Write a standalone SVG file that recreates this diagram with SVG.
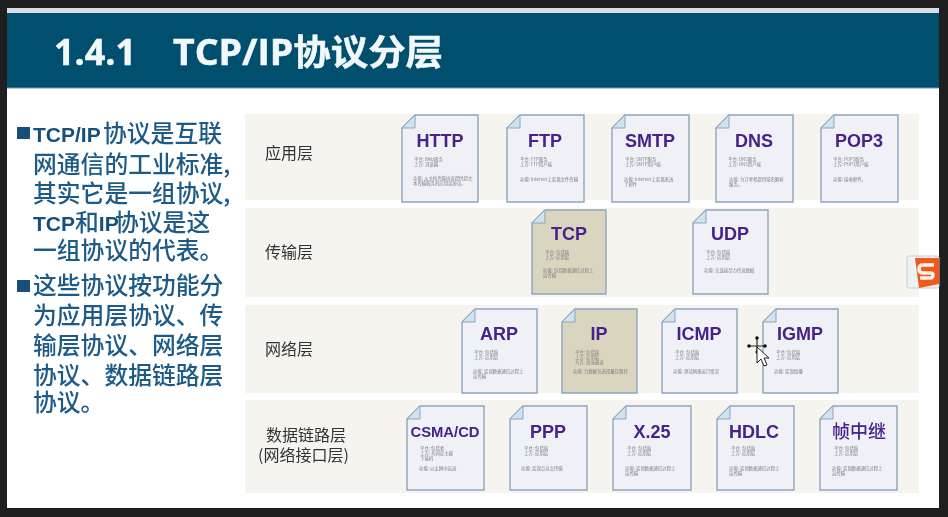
<svg xmlns="http://www.w3.org/2000/svg" width="948" height="517" viewBox="0 0 948 517">
<style>
.row{fill:#f5f4ef}
.doc{fill:#eff1f6;stroke:#8ea5bf;stroke-width:1.4}
.tan{fill:#d9d5bf}
.fold{fill:#cfe2ef;stroke:#8ea5bf;stroke-width:1}
.p{font:bold 18px "Liberation Sans",Arial,"Noto Sans CJK SC",sans-serif;fill:#47208a;text-anchor:middle}
.s{font:4.4px "Noto Sans CJK SC",sans-serif;fill:#7d7d80}
.l{font:16px "Noto Sans CJK SC",sans-serif;fill:#333}
.b{font:500 23.800px "Noto Sans CJK SC",sans-serif;fill:#1d5a88}
.la{font:bold 21px "Liberation Sans",sans-serif;fill:#174f7c}
.t{font:bold 35px "Open Sans","Noto Sans CJK SC",sans-serif;fill:#f2f8fa;stroke:#f2f8fa;stroke-width:.5}
</style>
<defs>
<filter id="soft" x="-5%" y="-5%" width="110%" height="110%"><feGaussianBlur stdDeviation="0.45"/></filter>
</defs>
<rect width="948" height="517" fill="#1f1f1f"/>
<rect x="7" y="8" width="932" height="500" fill="#fff"/>
<g filter="url(#soft)">
<rect x="7" y="8" width="932" height="5" fill="#dcdbe6"/>
<rect x="7" y="13" width="932" height="75" fill="#00506e"/>
<rect x="7" y="87.500" width="932" height="1" fill="#6f8fb0"/>
<text class="t" x="54" y="65" textLength="82" lengthAdjust="spacingAndGlyphs">1.4.1</text>
<text class="t" x="173" y="65" textLength="270" lengthAdjust="spacingAndGlyphs">TCP/IP协议分层</text>

<g id="bullets">
<rect x="17" y="127" width="13" height="12" fill="#174f7c"/>
<rect x="17" y="280" width="13" height="12" fill="#174f7c"/>
<text class="b" x="33" y="142"><tspan class="la">TCP/IP</tspan><tspan x="103">协议是互联</tspan></text>
<text class="b" x="33" y="173">网通信的工业标准,</text>
<text class="b" x="33" y="202">其实它是一组协议,</text>
<text class="b" x="33" y="231"><tspan class="la">TCP</tspan>和<tspan class="la">IP</tspan><tspan x="115">协议是这</tspan></text>
<text class="b" x="33" y="259">一组协议的代表。</text>
<text class="b" x="33" y="294">这些协议按功能分</text>
<text class="b" x="33" y="324">为应用层协议、传</text>
<text class="b" x="33" y="354">输层协议、网络层</text>
<text class="b" x="33" y="384">协议、数据链路层</text>
<text class="b" x="33" y="411">协议。</text>
</g>

<g id="layer-app">
<rect class="row" x="245" y="114" width="674" height="86"/>
<text class="l" x="265" y="159">应用层</text>
</g>
<g id="layer-transport">
<rect class="row" x="245" y="208" width="674" height="89"/>
<text class="l" x="265" y="258">传输层</text>
</g>
<g id="layer-network">
<rect class="row" x="245" y="305" width="674" height="88"/>
<text class="l" x="265" y="355">网络层</text>
</g>
<g id="layer-link">
<rect class="row" x="245" y="400" width="674" height="93"/>
<text class="l" x="266" y="441">数据链路层</text>
<text class="l" x="258" y="461">(网络接口层)</text>
</g>

<g id="http"><path class="doc" d="M415 115H478V202H402V128Z"/><path class="fold" d="M402 128H415V115Z"/><text class="p" x="440" y="147">HTTP</text><text class="s" x="414" y="161">平台: Web服务</text><text class="s" x="414" y="166">上方: 浏览器</text><text class="s" x="413" y="180">功能: 从文档传输协议提供超文</text><text class="s" x="413" y="185">本传输服务的应用层协议。</text></g>
<g id="ftp"><path class="doc" d="M520 115H584V202H507V128Z"/><path class="fold" d="M507 128H520V115Z"/><text class="p" x="545" y="147">FTP</text><text class="s" x="520" y="161">平台: FTP服务</text><text class="s" x="520" y="166">上方: FTP用户端</text><text class="s" x="520" y="181">功能: Internet上实现文件传输</text></g>
<g id="smtp"><path class="doc" d="M625 115H689V202H612V128Z"/><path class="fold" d="M612 128H625V115Z"/><text class="p" x="650" y="147">SMTP</text><text class="s" x="625" y="161">平台: SMTP服务</text><text class="s" x="625" y="166">上方: SMTP用户端</text><text class="s" x="624" y="181">功能: Internet上实现发送</text><text class="s" x="624" y="186">了邮件</text></g>
<g id="dns"><path class="doc" d="M729 115H793V202H716V128Z"/><path class="fold" d="M716 128H729V115Z"/><text class="p" x="754" y="147">DNS</text><text class="s" x="728" y="161">平台: DNS服务</text><text class="s" x="728" y="166">上方: DNS用户端</text><text class="s" x="729" y="181">功能: 为计考机提供域名解析</text><text class="s" x="729" y="186">服务。</text></g>
<g id="pop3"><path class="doc" d="M834 115H898V202H821V128Z"/><path class="fold" d="M821 128H834V115Z"/><text class="p" x="859" y="147">POP3</text><text class="s" x="833" y="161">平台: POP3服务</text><text class="s" x="833" y="166">上方: POP3用户端</text><text class="s" x="833" y="181">功能: 接收邮件。</text></g>

<g id="tcp"><path class="doc tan" d="M545 210H606V294H532V223Z"/><path class="fold" d="M532 223H545V210Z"/><text class="p" x="569" y="240">TCP</text><text class="s" x="545" y="254">平台: 包括端</text><text class="s" x="545" y="259">上方: 应用层</text><text class="s" x="543" y="272">功能: 包括数据通信过程上</text><text class="s" x="543" y="277">运传输</text></g>
<g id="udp"><path class="doc" d="M706 210H768V294H693V223Z"/><path class="fold" d="M693 223H706V210Z"/><text class="p" x="730" y="240">UDP</text><text class="s" x="706" y="254">平台: 包括端</text><text class="s" x="706" y="259">上方: 应用层</text><text class="s" x="704" y="272">功能: 无连接尽力传送数据</text></g>

<g id="arp"><path class="doc" d="M475 309H537V393H462V322Z"/><path class="fold" d="M462 322H475V309Z"/><text class="p" x="499" y="340">ARP</text><text class="s" x="474" y="354">平台: 包括端</text><text class="s" x="474" y="359">上方: 应用层</text><text class="s" x="473" y="373">功能: 实现数据通信过程上</text><text class="s" x="473" y="378">运传输</text></g>
<g id="ip"><path class="doc tan" d="M575 309H637V393H562V322Z"/><path class="fold" d="M562 322H575V309Z"/><text class="p" x="599" y="340">IP</text><text class="s" x="575" y="354">平台: 包括端</text><text class="s" x="575" y="359">上方: 应用层</text><text class="s" x="575" y="364">为方: 高速通道</text><text class="s" x="573" y="373">功能: 为数据包选择最佳路径</text></g>
<g id="icmp"><path class="doc" d="M675 309H737V393H662V322Z"/><path class="fold" d="M662 322H675V309Z"/><text class="p" x="699" y="340">ICMP</text><text class="s" x="675" y="354">平台: 包括端</text><text class="s" x="675" y="359">上方: 应用层</text><text class="s" x="673" y="373">功能: 测试网络运行情况</text></g>
<g id="igmp"><path class="doc" d="M776 309H838V393H763V322Z"/><path class="fold" d="M763 322H776V309Z"/><text class="p" x="800" y="340">IGMP</text><text class="s" x="776" y="354">平台: 包括端</text><text class="s" x="776" y="359">上方: 应用层</text><text class="s" x="774" y="373">功能: 实现组播</text></g>

<g id="csma"><path class="doc" d="M420 406H484V490H407V419Z"/><path class="fold" d="M407 419H420V406Z"/><text class="p" x="445" y="437" style="font-size:14.800px">CSMA/CD</text><text class="s" x="420" y="450">平台: 包括者</text><text class="s" x="420" y="455">上方: 共同应主器</text><text class="s" x="420" y="460">下接机</text><text class="s" x="419" y="470">功能: 以太网中运送</text></g>
<g id="ppp"><path class="doc" d="M523 406H587V490H510V419Z"/><path class="fold" d="M510 419H523V406Z"/><text class="p" x="548" y="438">PPP</text><text class="s" x="524" y="450">平台: 包括端</text><text class="s" x="524" y="455">上方: 应用层</text><text class="s" x="521" y="470">功能: 实现点对点传输</text></g>
<g id="x25"><path class="doc" d="M626 406H691V490H613V419Z"/><path class="fold" d="M613 419H626V406Z"/><text class="p" x="652" y="438">X.25</text><text class="s" x="627" y="450">平台: 包括端</text><text class="s" x="627" y="455">上方: 应用层</text><text class="s" x="625" y="470">功能: 实现数据通信过程上</text><text class="s" x="625" y="475">运传输</text></g>
<g id="hdlc"><path class="doc" d="M730 406H794V490H717V419Z"/><path class="fold" d="M717 419H730V406Z"/><text class="p" x="754" y="438">HDLC</text><text class="s" x="731" y="450">平台: 包括端</text><text class="s" x="731" y="455">上方: 应用层</text><text class="s" x="729" y="470">功能: 实现数据通信过程上</text><text class="s" x="729" y="475">运传输</text></g>
<g id="frame-relay"><path class="doc" d="M833 406H897V490H820V419Z"/><path class="fold" d="M820 419H833V406Z"/><text class="p" x="859" y="438" style="font-weight:500;font-family:'Noto Sans CJK SC',sans-serif;font-size:18px">帧中继</text><text class="s" x="834" y="450">平台: 包括端</text><text class="s" x="834" y="455">上方: 应用层</text><text class="s" x="832" y="470">功能: 实现数据通信过程上</text><text class="s" x="832" y="475">运传输</text></g>

<g id="sogou-icon">
<rect x="907" y="256" width="32" height="32" rx="2" fill="#eef1f6" stroke="#c8ccd0"/>
<path d="M915 258H939V284L919 288Z" fill="#f0591e"/>
<path d="M934 265H923Q919 265 919 269Q919 273 923 273H930Q933 273 933 275Q933 278 930 278H920" fill="none" stroke="#fdf3ea" stroke-width="3.500"/>
</g>
<g id="cursor">
<path d="M757 338V354M749 346H765" stroke="#222" stroke-width="1.200"/>
<circle cx="757" cy="338" r="1.800" fill="#111"/><circle cx="749" cy="346" r="1.800" fill="#111"/><circle cx="765" cy="346" r="1.800" fill="#111"/><circle cx="757" cy="352" r="1.500" fill="#111"/>
<path d="M757 347V363L761 359L764 366L767 365L764 358L769 358Z" fill="#fff" stroke="#222" stroke-width="1"/>
</g>
</g>
</svg>
